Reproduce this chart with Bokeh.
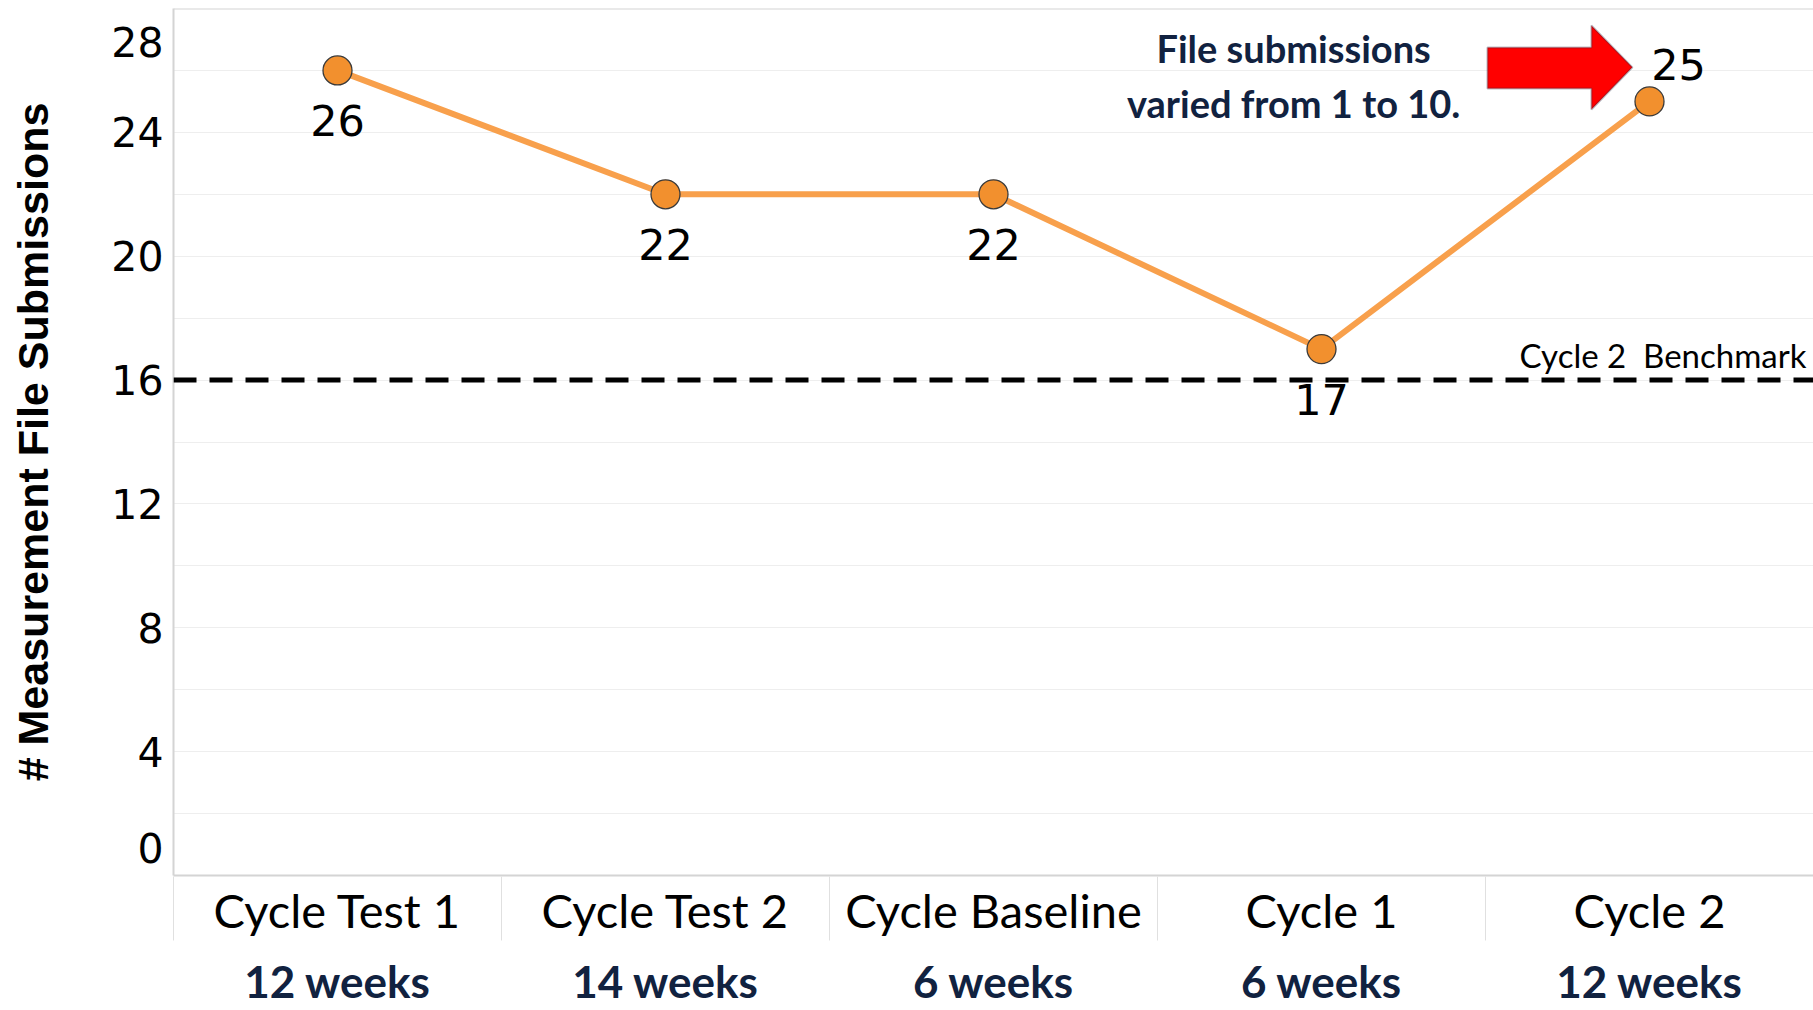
from bokeh.plotting import figure
from bokeh.models import (Range1d, FixedTicker, Span, Label, LinearAxis,
                          ColumnDataSource, PolyAnnotation)
from bokeh.embed import file_html
from bokeh.resources import INLINE
from bokeh.core.properties import value

# ---------------- data ----------------
categories = ["Cycle Test 1", "Cycle Test 2", "Cycle Baseline", "Cycle 1", "Cycle 2"]
durations = ["12 weeks", "14 weeks", "6 weeks", "6 weeks", "12 weeks"]
submissions = [26, 22, 22, 17, 25]
benchmark = 16
benchmark_label = "Cycle 2\u00a0 Benchmark"
y_ticks = [0, 4, 8, 12, 16, 20, 24, 28]
y_grid_ticks = [0, 2, 4, 6, 8, 10, 12, 14, 16, 18, 20, 22, 24, 26, 28]
y_title = "# Measurement File Submissions"
note_lines = ["File submissions", "varied from 1 to 10."]

# ---------------- layout ----------------
W, H = 1813, 1010
LEFT, TOP, BOTTOM = 173, 8, 135
FRAME_H = H - BOTTOM - TOP
frame_w = W - LEFT
x_idx = list(range(len(categories)))
y_max = y_ticks[-1]
ppu = FRAME_H / (y_max - y_ticks[0])      # pixels per unit on the y axis

p = figure(width=W, height=H, output_backend="svg", toolbar_location=None,
           x_range=Range1d(-0.5, len(categories) - 0.5),
           y_range=Range1d(y_ticks[0], y_max),
           min_border_left=LEFT, min_border_right=0, min_border_top=TOP,
           min_border_bottom=BOTTOM)
p.outline_line_color = None
p.background_fill_color = "white"
p.border_fill_color = "white"

# grids
p.xgrid.visible = False
p.ygrid.ticker = FixedTicker(ticks=y_grid_ticks)
p.ygrid.grid_line_color = "#eeeeee"
p.ygrid.grid_line_width = 1

# y axis: end labels are nudged inside the plot, as the original does
label_ticks = [y_ticks[0] + 28 / ppu] + y_ticks[1:-1] + [y_ticks[-1] - 33 / ppu]
ya = p.yaxis[0]
ya.ticker = FixedTicker(ticks=label_ticks)
ya.major_label_overrides = {t: str(v) for t, v in zip(label_ticks, y_ticks)}
ya.major_label_text_font = "DejaVu Sans"
ya.major_label_text_font_size = "41px"
ya.major_label_text_color = "black"
ya.major_label_standoff = 10
ya.major_tick_line_color = None
ya.major_tick_out = 0
ya.major_tick_in = 0
ya.minor_tick_line_color = None
ya.axis_line_color = "#d4d4d4"
ya.axis_line_width = 2
ya.axis_label = y_title
ya.axis_label_text_font = "Liberation Sans"
ya.axis_label_text_font_style = "bold"
ya.axis_label_text_font_size = "43px"
ya.axis_label_text_color = "black"
ya.axis_label_standoff = 51

# x axis (categories)
xa = p.xaxis[0]
xa.ticker = FixedTicker(ticks=x_idx)
xa.major_label_overrides = dict(zip(x_idx, categories))
xa.major_label_text_font = "Lato"
xa.major_label_text_font_size = "47px"
xa.major_label_text_color = "black"
xa.major_label_standoff = 6
xa.major_tick_line_color = None
xa.major_tick_out = 0
xa.major_tick_in = 0
xa.minor_tick_line_color = None
xa.axis_line_color = "#d4d4d4"
xa.axis_line_width = 2

# second x axis: durations, its minor ticks draw the header separators
wa = LinearAxis(ticker=FixedTicker(ticks=x_idx,
                                   minor_ticks=[i - 0.5 for i in range(len(categories) + 1)]))
wa.major_label_overrides = dict(zip(x_idx, durations))
wa.major_label_text_font = "Lato"
wa.major_label_text_font_style = "bold"
wa.major_label_text_font_size = "44px"
wa.major_label_text_color = "#112240"
wa.major_label_standoff = 14
wa.major_tick_line_color = None
wa.major_tick_out = 0
wa.major_tick_in = 0
wa.minor_tick_out = 0
wa.minor_tick_in = 64
wa.minor_tick_line_color = "#e0e0e0"
wa.minor_tick_line_width = 1
wa.axis_line_color = None
p.add_layout(wa, "below")

# top border
p.add_layout(Span(location=y_max, dimension="width", line_color="#d4d4d4",
                  line_width=2))

# benchmark
p.add_layout(Span(location=benchmark, dimension="width", line_color="black",
                  line_width=5, line_dash="23 13"))
p.add_layout(Label(x=p.x_range.end, y=benchmark, text=benchmark_label,
                   x_offset=-7, y_offset=25, text_align="right",
                   text_baseline="middle", text_font="Lato",
                   text_font_size="33px", text_color="black"))

# series
src = ColumnDataSource(dict(x=x_idx, y=submissions))
p.line("x", "y", source=src, line_color="#F8A04C", line_width=6)
p.scatter("x", "y", source=src, size=29, fill_color="#F2902E",
          line_color="#3a3a3a", line_width=1.3)

src_main = ColumnDataSource(dict(x=x_idx[:-1], y=submissions[:-1],
                                 label=[str(v) for v in submissions[:-1]]))
src_last = ColumnDataSource(dict(x=x_idx[-1:], y=submissions[-1:],
                                 label=[str(v) for v in submissions[-1:]]))
p.text("x", "y", text="label", source=src_main, y_offset=50,
       text_align="center", text_baseline="middle",
       text_font=value("DejaVu Sans"), text_font_size="43px", text_color="black")
p.text("x", "y", text="label", source=src_last, x_offset=29, y_offset=-37,
       text_align="center", text_baseline="middle",
       text_font=value("DejaVu Sans"), text_font_size="43px", text_color="black")

# annotation note
for line_text, yy in zip(note_lines, (26.74, 24.94)):
    p.add_layout(Label(x=2.915, y=yy, text=line_text, text_align="center",
                       text_baseline="middle", text_font="Lato",
                       text_font_style="bold", text_font_size="38px",
                       text_color="#112240"))

# red block arrow
p.add_layout(PolyAnnotation(
    xs=[3.506, 3.823, 3.823, 3.948, 3.823, 3.823, 3.506],
    ys=[26.74, 26.74, 27.45, 26.10, 24.74, 25.42, 25.42],
    fill_color="#FF0000", fill_alpha=1.0, line_color="#1B2A47", line_width=2))

open("out.html", "w").write(file_html(p, INLINE))
